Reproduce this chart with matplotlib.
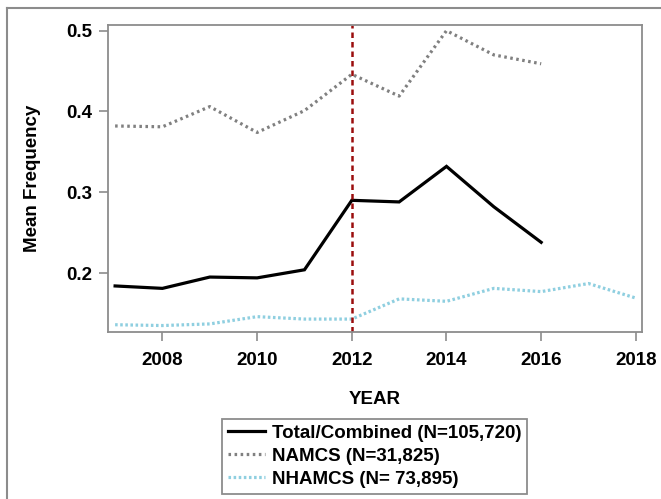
import numpy as np
import matplotlib
matplotlib.use("Agg")
import matplotlib.pyplot as plt
from matplotlib.lines import Line2D

plt.rcParams['font.family'] = ['Liberation Sans', 'DejaVu Sans']
plt.rcParams['font.weight'] = 'bold'

# Data
years_total = [2007, 2008, 2009, 2010, 2011, 2012, 2013, 2014, 2015, 2016]
total = [0.184, 0.181, 0.195, 0.194, 0.204, 0.290, 0.288, 0.332, 0.282, 0.238]

years_namcs = [2007, 2008, 2009, 2010, 2011, 2012, 2013, 2014, 2015, 2016]
namcs = [0.382, 0.381, 0.406, 0.374, 0.401, 0.446, 0.419, 0.500, 0.470, 0.459]

years_nhamcs = [2007, 2008, 2009, 2010, 2011, 2012, 2013, 2014, 2015, 2016, 2017, 2018]
nhamcs = [0.136, 0.135, 0.137, 0.146, 0.143, 0.143, 0.168, 0.165, 0.181, 0.177, 0.187, 0.169]

labels = ["Total/Combined (N=105,720)", "NAMCS (N=31,825)", "NHAMCS (N= 73,895)"]
policy_year = 2012

W, H = 661, 499
fig = plt.figure(figsize=(W / 100, H / 100), dpi=100)

# outer frame (left and top edges only)
fig.add_artist(Line2D([7 / W, 7 / W], [0, 1 - 8 / H], color='#8c8c8c', lw=1.5))
fig.add_artist(Line2D([7 / W, 1], [1 - 8 / H, 1 - 8 / H], color='#8c8c8c', lw=1.5))

ax = fig.add_axes([108 / W, 1 - 332 / H, (642 - 108) / W, (332 - 25) / H])

l1, = ax.plot(years_total, total, color='black', lw=2.3, solid_joinstyle='miter')
l2, = ax.plot(years_namcs, namcs, color='#808080', lw=2.3, ls=(0, (0.8, 1.1)))
l3, = ax.plot(years_nhamcs, nhamcs, color='#8fcfe0', lw=2.3, ls=(0, (0.8, 0.8)))
ax.axvline(policy_year, color='#9b0d0d', lw=1.8, ls=(0, (2.2, 1.6)))

ax.set_xlim(2006.85, 2018.13)
ax.set_ylim(0.127, 0.507)
ax.set_xticks([2008, 2010, 2012, 2014, 2016, 2018])
ax.set_yticks([0.2, 0.3, 0.4, 0.5])
ax.set_yticklabels(['0.2', '0.3', '0.4', '0.5'])

for s in ax.spines.values():
    s.set_color('#8c8c8c')
    s.set_linewidth(1.3)
ax.tick_params(axis='both', colors='#8c8c8c', labelcolor='black', length=6.5,
               width=1.2, labelsize=13.5)
ax.tick_params(axis='x', pad=8)
ax.tick_params(axis='y', pad=5)

ax.set_xlabel("YEAR", fontsize=13.5, fontweight='bold')
ax.set_ylabel("Mean Frequency", fontsize=13.5, fontweight='bold')
ax.xaxis.set_label_coords(0.5, (332 - 391) / 307)
ax.yaxis.set_label_coords((41 - 108) / 534, 0.5)

leg = fig.legend([l1, l2, l3], labels, loc='upper left',
                 bbox_to_anchor=(222 / W, 1 - 419 / H), borderaxespad=0,
                 fancybox=False, edgecolor='#8c8c8c', framealpha=1,
                 prop={'size': 13.5, 'weight': 'bold'}, handlelength=2.0,
                 handletextpad=0.35, labelspacing=0.32, borderpad=0.3)
leg.get_frame().set_linewidth(1.3)

fig.savefig("out.png", dpi=100)
